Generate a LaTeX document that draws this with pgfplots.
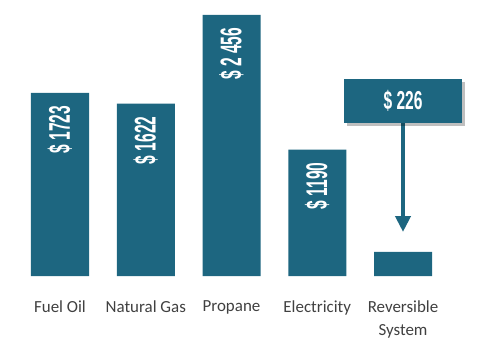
\documentclass[border=0pt]{standalone}
\usepackage{pgfplots}
\pgfplotsset{compat=1.18}
\usepackage{fontspec}
\setmainfont{Carlito}
\newfontfamily\barfont[FakeStretch=0.52]{Liberation Sans}
\newfontfamily\calloutfont[FakeStretch=0.6]{Liberation Sans}
\usetikzlibrary{arrows.meta,shadows}
\definecolor{barteal}{RGB}{29,102,128}
\definecolor{labgray}{RGB}{64,64,64}
\begin{document}
\begin{tikzpicture}
\path[use as bounding box] (0,-77bp) rectangle (487bp,276bp);
\begin{axis}[
  at={(0,0)}, anchor=south west,
  scale only axis, width=487bp, height=276bp,
  xmin=-0.6997, xmax=4.9796, ymin=0, ymax=2597,
  axis line style={draw=none}, tick style={draw=none},
  ytick=\empty,
  xtick={0,1,2,3,4},
  xticklabels={Fuel Oil, Natural Gas, Propane, Electricity, {Reversible\\System}},
  xticklabel style={anchor=north, inner sep=0pt, yshift=-20bp, align=center, text=labgray,
    font=\fontsize{17}{23}\selectfont},
  clip=false,
  ybar, bar width=58bp,
  nodes near coords,
  point meta=explicit symbolic,
  every node near coord/.append style={rotate=90, anchor=east, text=white,
    inner xsep=13bp, outer sep=0pt,
    font=\barfont\bfseries\fontsize{30}{30}\selectfont},
]
\addplot[fill=barteal, draw=none, bar shift=0pt] coordinates {
  (0,1723) [\$ 1723]
  (1,1622) [\$ 1622]
  (2,2456) [\$ 2 456]
  (3,1190) [\$ 1190]
  (4,226) []
};
\draw[barteal, line width=4bp, -{Triangle[width=15bp,length=16bp]}]
  (axis cs:4,1440) -- (axis cs:4,414);
\node[fill=barteal, minimum width=118bp, minimum height=44bp, inner sep=0pt,
  drop shadow={shadow xshift=3bp, shadow yshift=-3bp, fill=black, opacity=0.25},
  text=white, font=\calloutfont\bfseries\fontsize{26}{26}\selectfont]
  at (axis cs:4,1647) {\$ 226};
\end{axis}
\end{tikzpicture}
\end{document}
